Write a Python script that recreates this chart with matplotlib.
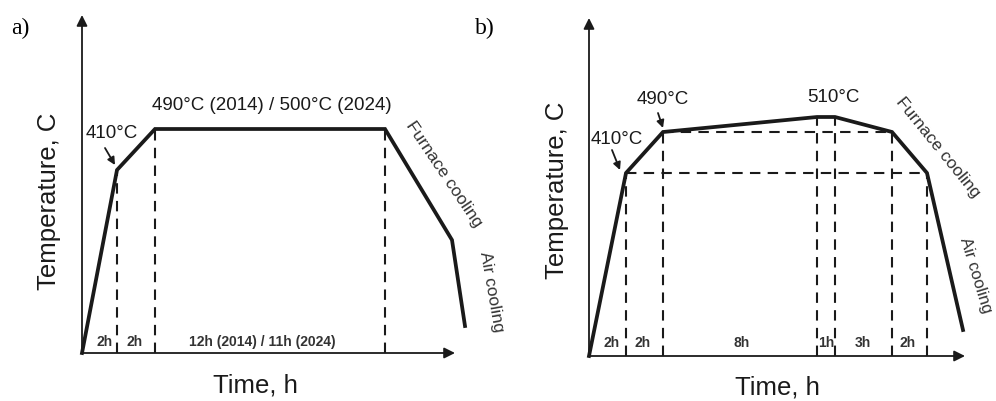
import matplotlib
matplotlib.use('Agg')
import matplotlib.pyplot as plt

plt.rcParams['font.family'] = ['Liberation Sans', 'DejaVu Sans']

# ------------------------------------------------------------------ #
#   schematic heat-treatment cycles (arbitrary schematic units)      #
# ------------------------------------------------------------------ #

# panel a: time positions / temperature levels of the profile
a_time = [0, 35, 73, 303, 370, 383]
a_temp = [0, 183, 224, 224, 113, 27]
a_steps = [35, 73, 303]                       # dashed vertical marks
a_dur_pos = [23, 53, 180]
a_dur_lab = ['2h', '2h', '12h (2014) / 11h (2024)']

# panel b
b_time = [0, 37, 74, 228, 246, 303, 338, 374]
b_temp = [0, 183, 224, 239, 239, 224, 183, 26]
b_steps = [37, 74, 228, 246, 303, 338]
b_hlines = [(224, 74, 303), (183, 37, 338)]   # (level, from, to)
b_dur_pos = [23, 54, 153, 237, 274, 319]
b_dur_lab = ['2h', '2h', '8h', '1h', '3h', '2h']

ink = '#1a1a1a'

fig = plt.figure(figsize=(9.96, 4.01), dpi=100)


def make_axes(ox, oy, w, h):
    # ox, oy: origin in figure pixels from top-left
    ax = fig.add_axes([ox / 996, (401 - oy) / 401, w / 996, h / 401])
    ax.set_xlim(0, w)
    ax.set_ylim(0, h)
    ax.axis('off')
    return ax


def axes_arrows(ax, xend, yend):
    ap = dict(arrowstyle='-|>', color=ink, lw=1.3, mutation_scale=16,
              shrinkA=0, shrinkB=0)
    ax.annotate('', xy=(0, yend), xytext=(0, 0), arrowprops=ap, annotation_clip=False)
    ax.annotate('', xy=(xend, 0), xytext=(0, 0), arrowprops=ap, annotation_clip=False)


def pointer(ax, txt_xy, tip_xy):
    ax.annotate('', xy=tip_xy, xytext=txt_xy,
                arrowprops=dict(arrowstyle='-|>', color=ink, lw=1.3,
                                mutation_scale=11, shrinkA=0, shrinkB=0),
                annotation_clip=False)


dash = dict(color=ink, lw=1.5, ls=(0, (5, 3.5)))
big = 18.5
mid = 13.5
small = dict(fontsize=10, fontweight='bold', color='#333333', ha='center', va='center')

# ---------------------------- panel a ---------------------------- #
ax = make_axes(82, 353, 400, 345)
axes_arrows(ax, 373, 338)
for t in a_steps:
    ax.plot([t, t], [0, a_temp[a_time.index(t)]], **dash)
ax.plot(a_time, a_temp, color=ink, lw=2.7, solid_joinstyle='miter', clip_on=False)
for p, l in zip(a_dur_pos, a_dur_lab):
    ax.text(p, 11, l, **small)
ax.text(30, 220, '410°C', ha='center', va='center', fontsize=mid, color=ink)
pointer(ax, (23, 205), (33, 188))
ax.text(190, 247, '490°C (2014) / 500°C (2024)', ha='center', va='center',
        fontsize=mid, color=ink)
ax.text(362, 179, 'Furnace cooling', ha='center', va='center', rotation=-56,
        fontsize=12.5, color='#333333', rotation_mode='anchor')
ax.text(409, 61, 'Air cooling', ha='center', va='center', rotation=-80,
        fontsize=12.5, color='#333333', rotation_mode='anchor')
ax.text(173, -32, 'Time, h', ha='center', va='center', fontsize=big, color=ink)
ax.text(-33, 152, 'Temperature, C', ha='center', va='center', rotation=90,
        fontsize=big, color=ink)
ax.text(-62, 325, 'a)', ha='center', va='center', fontsize=17,
        family='Liberation Serif', color='black')

# ---------------------------- panel b ---------------------------- #
ax = make_axes(589, 356, 400, 345)
axes_arrows(ax, 376, 338)
for t in b_steps:
    ax.plot([t, t], [0, b_temp[b_time.index(t)]], **dash)
for lev, x0, x1 in b_hlines:
    ax.plot([x0, x1], [lev, lev], **dash)
ax.plot(b_time, b_temp, color=ink, lw=2.7, solid_joinstyle='miter', clip_on=False)
for p, l in zip(b_dur_pos, b_dur_lab):
    ax.text(p, 13, l, **small)
ax.text(28, 216, '410°C', ha='center', va='center', fontsize=mid, color=ink)
pointer(ax, (23, 206), (31, 186))
ax.text(74, 256, '490°C', ha='center', va='center', fontsize=mid, color=ink)
pointer(ax, (69, 243), (74, 228))
ax.text(244, 259, '510°C', ha='center', va='center', fontsize=mid, color=ink)
ax.text(349, 208, 'Furnace cooling', ha='center', va='center', rotation=-51,
        fontsize=12.5, color='#333333', rotation_mode='anchor')
ax.text(387, 81, 'Air cooling', ha='center', va='center', rotation=-73,
        fontsize=12, color='#333333', rotation_mode='anchor')
ax.text(188, -32, 'Time, h', ha='center', va='center', fontsize=big, color=ink)
ax.text(-32, 166, 'Temperature, C', ha='center', va='center', rotation=90,
        fontsize=big, color=ink)
ax.text(-104, 328, 'b)', ha='center', va='center', fontsize=17,
        family='Liberation Serif', color='black')

plt.savefig('out.png', dpi=100)
plt.close()
